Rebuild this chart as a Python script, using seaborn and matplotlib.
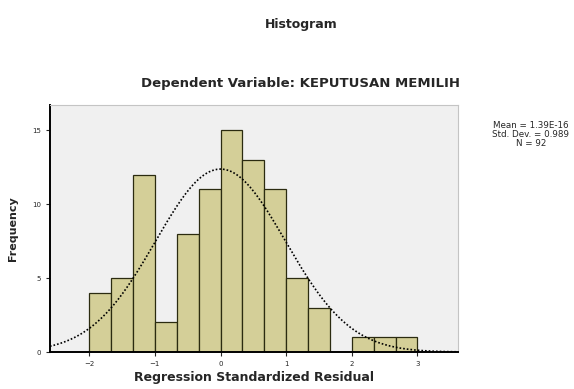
import numpy as np
import pandas as pd
import matplotlib
matplotlib.use("Agg")
import matplotlib.pyplot as plt
import seaborn as sns

# residual histogram (bins of width 1/3 starting at -2)
bin_start = -2.0
bin_width = 1 / 3
counts = [4, 5, 12, 2, 8, 11, 15, 13, 11, 5, 3, 0, 1, 1, 1]
res_mean = 0.0
res_sd = 0.989
n_obs = 92

x_ticks = [-2, -1, 0, 1, 2, 3]
y_ticks = [0, 5, 10, 15]

centers = bin_start + bin_width * (np.arange(len(counts)) + 0.5)
df = pd.DataFrame({"resid": centers, "freq": counts})
bin_end = bin_start + bin_width * len(counts)

sns.set_style("white")
plt.rcParams["font.family"] = ["DejaVu Sans"]

fig = plt.figure(figsize=(5.74, 3.89), dpi=100)
ax = fig.add_axes([0.087, 0.095, 0.711, 0.635])
ax.set_facecolor("#F0F0F0")

sns.histplot(data=df, x="resid", weights="freq", binwidth=bin_width,
             binrange=(bin_start, bin_end), ax=ax,
             color="#D4CF98", edgecolor="#2b2b10", linewidth=0.9, alpha=1)

xs = np.linspace(-2.6, 3.65, 300)
curve = n_obs * bin_width * np.exp(-0.5 * ((xs - res_mean) / res_sd) ** 2) / (res_sd * np.sqrt(2 * np.pi))
ax.plot(xs, curve, color="black", linestyle=(0, (1, 1.2)), linewidth=1.2)

ax.set_xlim(-2.6, 3.62)
ax.set_ylim(0, 16.7)
ax.set_xticks(x_ticks)
ax.set_yticks(y_ticks)
ax.tick_params(axis="both", labelsize=5, length=3, direction="out", width=0.8)
ax.tick_params(left=True, bottom=True)
ax.set_xlabel("Regression Standardized Residual", fontsize=9, fontweight="bold", labelpad=3)
ax.set_ylabel("Frequency", fontsize=8, fontweight="bold", labelpad=10)

for side in ["top", "right"]:
    ax.spines[side].set_color("#c4c4c4")
    ax.spines[side].set_linewidth(0.8)
ax.spines["left"].set_color("black")
ax.spines["left"].set_linewidth(1.4)
ax.spines["bottom"].set_color("black")
ax.spines["bottom"].set_linewidth(1.4)

fig.text(0.524, 0.936, "Histogram", ha="center", va="center", fontsize=9, fontweight="bold")
fig.text(0.524, 0.786, "Dependent Variable: KEPUTUSAN MEMILIH", ha="center", va="center",
         fontsize=9.5, fontweight="bold")
fig.text(0.925, 0.655, "Mean = 1.39E-16\nStd. Dev. = 0.989\nN = 92", ha="center", va="center",
         fontsize=6.3, linespacing=1.0)

fig.savefig("out.png", dpi=100)
